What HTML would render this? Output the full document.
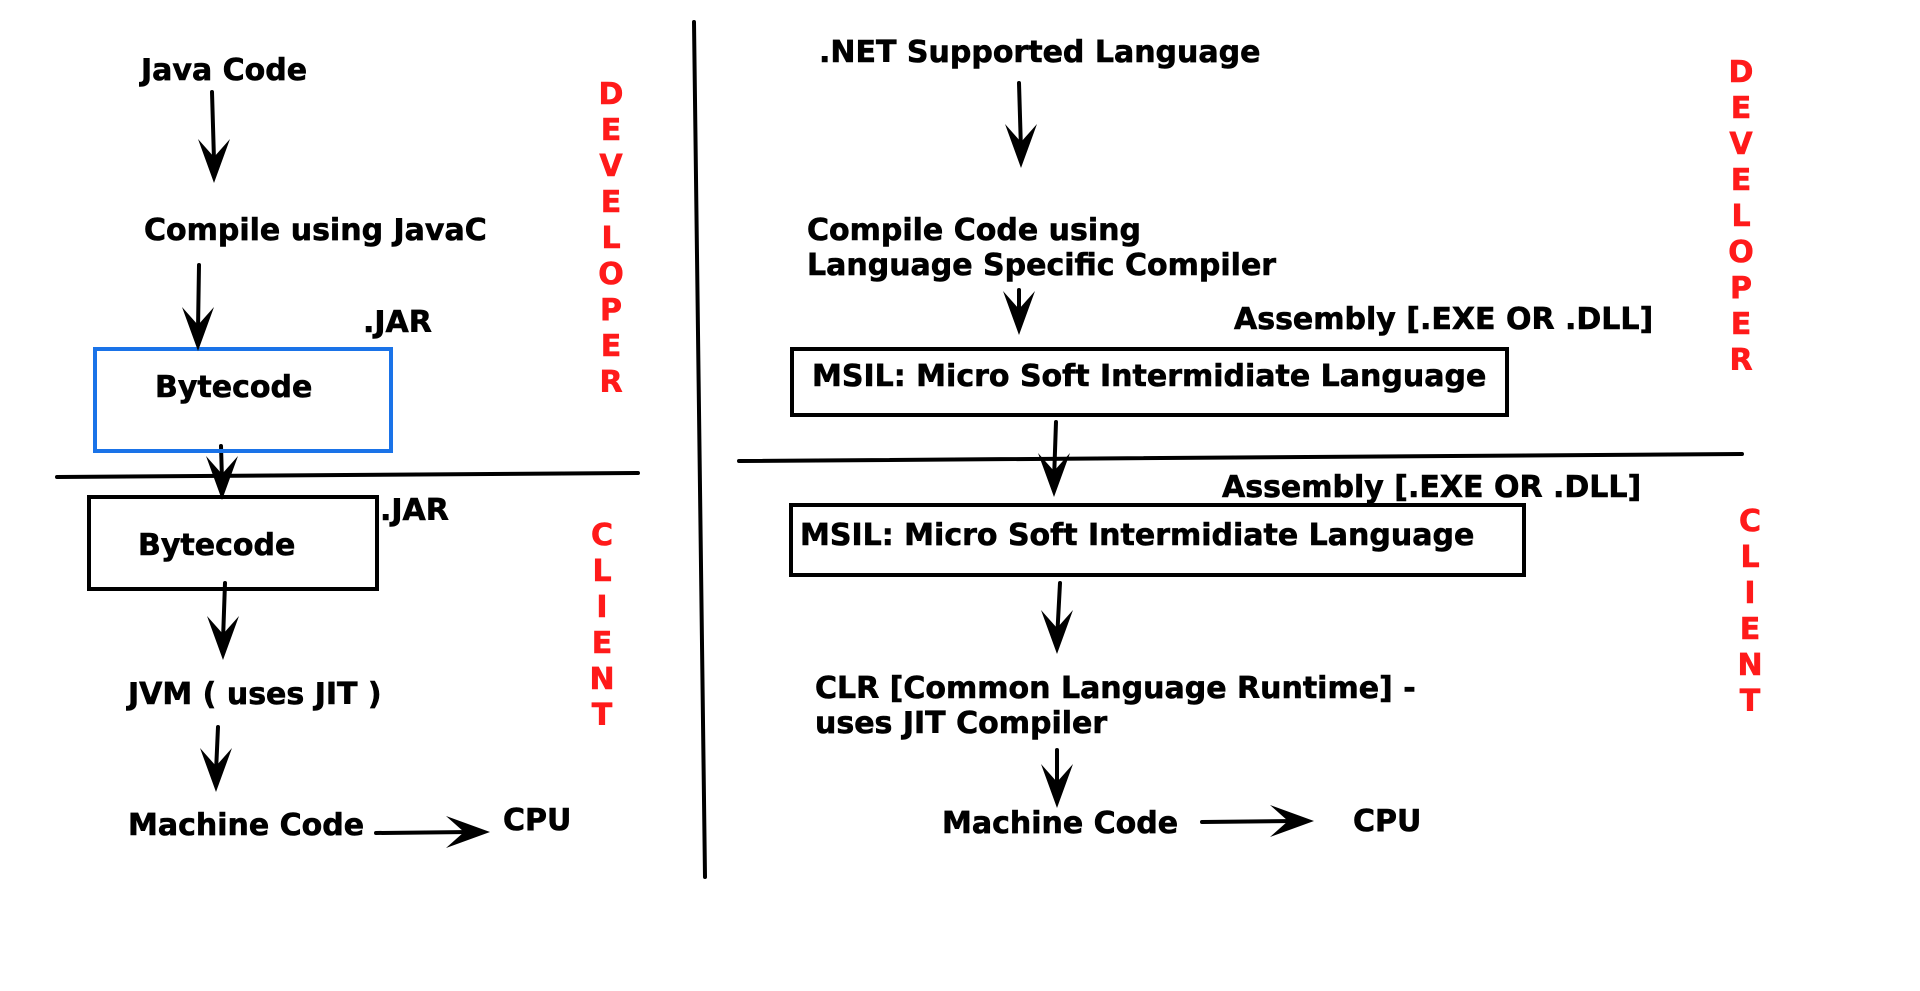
<!DOCTYPE html>
<html><head><meta charset="utf-8"><style>
html,body{margin:0;padding:0;background:#fff;width:1920px;height:991px;overflow:hidden}
svg text{font-family:"DejaVu Sans","Liberation Sans",sans-serif;font-weight:bold;font-size:30px;fill:#000;stroke:#000;stroke-width:0.6px}
svg text.r{fill:#ff1a1a;stroke:#ff1a1a;font-size:30px}
</style></head><body>
<svg width="1920" height="991" viewBox="0 0 1920 991" xmlns="http://www.w3.org/2000/svg">
<defs>
<g id="ad"><polygon points="0,0 -16,-44 0,-26 16,-44" fill="#000"/></g>
<g id="ar"><polygon points="0,0 -44,-16 -26,0 -44,16" fill="#000"/></g>
</defs>
<g stroke="#000" stroke-width="4" stroke-linecap="round" fill="none">
<line x1="212" y1="92" x2="214" y2="160"/>
<line x1="199" y1="265" x2="198" y2="330"/>
<line x1="221" y1="446" x2="222" y2="480"/>
<line x1="225" y1="583" x2="223" y2="640"/>
<line x1="218" y1="727" x2="216" y2="772"/>
<line x1="376" y1="833" x2="470" y2="832"/>
<line x1="57" y1="477" x2="638" y2="473"/>
<line x1="694" y1="22" x2="705" y2="877"/>
<line x1="1019" y1="83" x2="1021" y2="150"/>
<line x1="1019" y1="290" x2="1019" y2="318"/>
<line x1="1056" y1="422" x2="1054" y2="480"/>
<line x1="1060" y1="583" x2="1057" y2="640"/>
<line x1="1057" y1="750" x2="1057" y2="790"/>
<line x1="1202" y1="822" x2="1295" y2="821"/>
<line x1="739" y1="461" x2="1742" y2="454"/>
</g>
<rect x="95" y="349" width="296" height="102" fill="none" stroke="#1a73e8" stroke-width="4"/>
<rect x="89" y="497" width="288" height="92" fill="none" stroke="#000" stroke-width="4"/>
<rect x="792" y="349" width="715" height="66" fill="none" stroke="#000" stroke-width="4"/>
<rect x="791" y="505" width="733" height="70" fill="none" stroke="#000" stroke-width="4"/>
<use href="#ad" x="214" y="183"/>
<use href="#ad" x="198" y="351"/>
<use href="#ad" x="222" y="500"/>
<use href="#ad" x="223" y="660"/>
<use href="#ad" x="216" y="792"/>
<use href="#ar" x="490" y="832"/>
<use href="#ad" x="1021" y="168"/>
<use href="#ad" x="1019" y="335"/>
<use href="#ad" x="1054" y="497"/>
<use href="#ad" x="1057" y="654"/>
<use href="#ad" x="1057" y="808"/>
<use href="#ar" x="1314" y="821"/>
<text x="141" y="80">Java Code</text>
<text x="144" y="240">Compile using JavaC</text>
<text x="363" y="332">.JAR</text>
<text x="155" y="397">Bytecode</text>
<text x="380" y="520">.JAR</text>
<text x="138" y="555">Bytecode</text>
<text x="128" y="704">JVM ( uses JIT )</text>
<text x="128" y="835">Machine Code</text>
<text x="503" y="830">CPU</text>
<text x="819" y="62">.NET Supported Language</text>
<text x="807" y="240">Compile Code using</text>
<text x="807" y="275">Language Specific Compiler</text>
<text x="1234" y="329">Assembly [.EXE OR .DLL]</text>
<text x="812" y="386">MSIL: Micro Soft Intermidiate Language</text>
<text x="1222" y="497">Assembly [.EXE OR .DLL]</text>
<text x="800" y="545">MSIL: Micro Soft Intermidiate Language</text>
<text x="815" y="698">CLR [Common Language Runtime] -</text>
<text x="815" y="733">uses JIT Compiler</text>
<text x="942" y="833">Machine Code</text>
<text x="1353" y="831">CPU</text>
<g text-anchor="middle">
<text class="r" x="611" y="104">D</text><text class="r" x="611" y="140">E</text><text class="r" x="611" y="176">V</text><text class="r" x="611" y="212">E</text><text class="r" x="611" y="248">L</text><text class="r" x="611" y="284">O</text><text class="r" x="611" y="320">P</text><text class="r" x="611" y="356">E</text><text class="r" x="611" y="392">R</text>
<text class="r" x="602" y="545">C</text><text class="r" x="602" y="581">L</text><text class="r" x="602" y="617">I</text><text class="r" x="602" y="653">E</text><text class="r" x="602" y="689">N</text><text class="r" x="602" y="725">T</text>
<text class="r" x="1741" y="82">D</text><text class="r" x="1741" y="118">E</text><text class="r" x="1741" y="154">V</text><text class="r" x="1741" y="190">E</text><text class="r" x="1741" y="226">L</text><text class="r" x="1741" y="262">O</text><text class="r" x="1741" y="298">P</text><text class="r" x="1741" y="334">E</text><text class="r" x="1741" y="370">R</text>
<text class="r" x="1750" y="531">C</text><text class="r" x="1750" y="567">L</text><text class="r" x="1750" y="603">I</text><text class="r" x="1750" y="639">E</text><text class="r" x="1750" y="675">N</text><text class="r" x="1750" y="711">T</text>
</g>
</svg>
</body></html>
